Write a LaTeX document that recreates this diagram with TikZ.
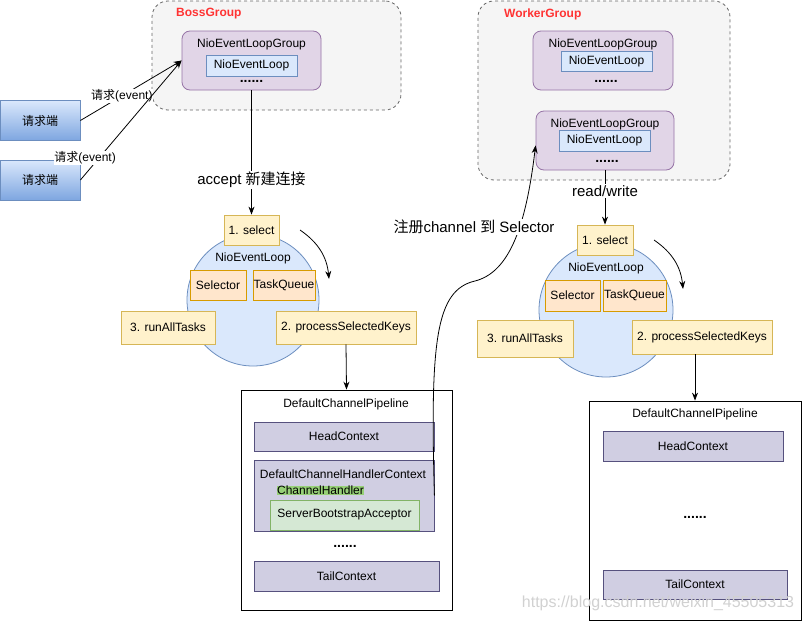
\documentclass[tikz,border=0pt]{standalone}
\usepackage{fontspec}
\setmainfont{Liberation Sans}
\newfontfamily\zh{Noto Sans CJK SC}
\usetikzlibrary{arrows.meta}
\definecolor{grpfill}{HTML}{F5F5F5}
\definecolor{grpline}{HTML}{666666}
\definecolor{grpred}{HTML}{FF3333}
\definecolor{purfill}{HTML}{E1D5E7}
\definecolor{purline}{HTML}{9673A6}
\definecolor{bluefill}{HTML}{DAE8FC}
\definecolor{blueline}{HTML}{6C8EBF}
\definecolor{clibot}{HTML}{7EA6E0}
\definecolor{yelfill}{HTML}{FFF2CC}
\definecolor{yelline}{HTML}{D6B656}
\definecolor{orgfill}{HTML}{FFE6CC}
\definecolor{orgline}{HTML}{D79B00}
\definecolor{ctxfill}{HTML}{D0CEE2}
\definecolor{ctxline}{HTML}{56517E}
\definecolor{grnfill}{HTML}{D5E8D4}
\definecolor{grnline}{HTML}{82B366}
\definecolor{hlgreen}{HTML}{97D077}
\tikzset{
  grp/.style={draw=grpline, fill=grpfill, dashed, rounded corners=16pt, line width=0.8pt},
  grplab/.style={text=grpred, font=\fontsize{12}{14}\selectfont\bfseries, inner sep=0pt},
  nelg/.style={draw=purline, fill=purfill, rounded corners=8pt, line width=0.8pt},
  nel/.style={draw=blueline, fill=bluefill, line width=0.8pt, inner sep=1pt},
  cli/.style={draw=blueline, top color=bluefill, bottom color=clibot, line width=0.8pt,
    minimum width=80, minimum height=40},
  loop/.style={circle, draw=blueline, fill=bluefill, line width=0.8pt, inner sep=0pt},
  ybox/.style={draw=yelline, fill=yelfill, line width=0.8pt, inner sep=1pt},
  obox/.style={draw=orgline, fill=orgfill, line width=0.8pt, inner sep=0.5pt},
  pipe/.style={draw=black, fill=white, line width=0.8pt},
  ctx/.style={draw=ctxline, fill=ctxfill, line width=0.8pt, inner sep=1pt},
  grn/.style={draw=grnline, fill=grnfill, line width=0.8pt, inner sep=1pt},
  hl/.style={fill=hlgreen, inner sep=0.5pt},
  txt/.style={inner sep=0pt},
  dots/.style={inner sep=0pt, font=\fontsize{14}{14}\selectfont\bfseries},
  elab/.style={fill=white, inner sep=0.5pt},
  elabl/.style={fill=white, inner sep=1pt, font=\fontsize{15}{18}\selectfont},
  arr/.style={-{Stealth[length=8pt,width=6pt]}, line width=0.8pt},
  wm/.style={text=black!18, font=\fontsize{16}{18}\selectfont},
}

\begin{document}
\begin{tikzpicture}[x=1pt, y=-1pt, font=\fontsize{12}{14}\selectfont]
  \useasboundingbox (0,0) rectangle (802,621);

  % BossGroup
  \node[grp, minimum width=249, minimum height=109] (boss) at (276.5,55.5) {};
  \node[grplab, anchor=west] (bosst) at (176,14) {BossGroup};
  \node[nelg, minimum width=139, minimum height=59] (bnelg) at (251.5,60.5) {};
  \node[txt] (bnelgt) at (251.5,44) {NioEventLoopGroup};
  \node[nel, minimum width=91, minimum height=21] (bnel) at (251.5,65.5) {NioEventLoop};
  \node[dots] (bdots) at (251.5,81) {......};

  % WorkerGroup
  \node[grp, minimum width=252, minimum height=179] (worker) at (604,90.5) {};
  \node[grplab, anchor=west] (workert) at (504,14) {WorkerGroup};
  \node[nelg, minimum width=140, minimum height=59] (wnelg1) at (603,60.5) {};
  \node[txt] (wnelg1t) at (603,44) {NioEventLoopGroup};
  \node[nel, minimum width=91, minimum height=20] (wnel1) at (606.5,61) {NioEventLoop};
  \node[dots] (wdots1) at (606,81) {......};
  \node[nelg, minimum width=138, minimum height=59] (wnelg2) at (605,140.5) {};
  \node[txt] (wnelg2t) at (605,124) {NioEventLoopGroup};
  \node[nel, minimum width=91, minimum height=21] (wnel2) at (604.5,140.5) {NioEventLoop};
  \node[dots] (wdots2) at (607,161) {......};

  % clients
  \node[cli] (cli1) at (40,120.5) {\zh 请求端};
  \node[cli] (cli2) at (40,180) {\zh 请求端};
  \draw[arr] (cli1.east) -- (bnelg.west) node[pos=0.41, elab] (ev1) {{\zh 请求}(event)};
  \draw[arr] (cli2.east) -- (bnelg.west) node[pos=0.185, xshift=-14pt, elab] (ev2) {{\zh 请求}(event)};

  % boss event loop
  \node[loop, minimum size=132] (lloop) at (253,300) {};
  \node[ybox, minimum width=55, minimum height=30] (lsel) at (251.5,230) {1. select};
  \node[txt] (lloopt) at (253,258) {NioEventLoop};
  \node[obox, minimum width=56, minimum height=30] (lselr) at (218,285) {Selector};
  \node[obox, minimum width=62, minimum height=30] (ltq) at (284,285) {TaskQueue};
  \node[ybox, minimum width=94, minimum height=33] (lrun) at (168,327.5) {3. runAllTasks};
  \node[ybox, minimum width=140, minimum height=33] (lpsk) at (346,327.5) {2. processSelectedKeys};
  \coordinate (lca) at (300,230);
  \coordinate (lcb) at (329,279);
  \draw[arr] (lca) to[bend left=25] (lcb);

  % boss pipeline
  \node[pipe, minimum width=211, minimum height=220] (lpipe) at (346.5,500) {};
  \node[txt] (lpipet) at (346,404) {DefaultChannelPipeline};
  \node[ctx, minimum width=180, minimum height=29] (lhead) at (344,436.5) {HeadContext};
  \node[ctx, minimum width=180, minimum height=71] (lhctx) at (344,495.5) {};
  \node[txt] (lhctxt) at (343,474) {DefaultChannelHandlerContext};
  \node[hl] (lchand) at (320.5,490.5) {ChannelHandler};
  \node[grn, minimum width=149, minimum height=30] (lsba) at (344.5,515) {ServerBootstrapAcceptor};
  \node[dots] (ldots) at (345,546) {......};
  \node[ctx, minimum width=185, minimum height=30] (ltail) at (346.5,576) {TailContext};

  % worker event loop
  \node[loop, minimum size=134] (rloop) at (606,310) {};
  \node[ybox, minimum width=56, minimum height=30] (rsel) at (605,240) {1. select};
  \node[txt] (rloopt) at (606,268) {NioEventLoop};
  \node[obox, minimum width=55, minimum height=31] (rselr) at (572.5,295.5) {Selector};
  \node[obox, minimum width=63, minimum height=31] (rtq) at (634.5,295.5) {TaskQueue};
  \node[ybox, minimum width=96, minimum height=37] (rrun) at (525,338.5) {3. runAllTasks};
  \node[ybox, minimum width=140, minimum height=34] (rpsk) at (702,337) {2. processSelectedKeys};
  \coordinate (rca) at (654,240);
  \coordinate (rcb) at (683,289);
  \draw[arr] (rca) to[bend left=25] (rcb);

  % worker pipeline
  \node[pipe, minimum width=212, minimum height=219] (rpipe) at (695,510.5) {};
  \node[txt] (rpipet) at (695,414) {DefaultChannelPipeline};
  \node[ctx, minimum width=180, minimum height=30] (rhead) at (693,446) {HeadContext};
  \node[dots] (rdots) at (695,517) {......};
  \node[ctx, minimum width=184, minimum height=29] (rtail) at (695,584.5) {TailContext};

  % connectors
  \draw[arr] (bnelg.south) -- (lsel.north) node[pos=0.72, elabl] (accl) {accept {\zh 新建连接}};
  \draw[arr] (wnelg2.south) -- (rsel.north) node[pos=0.38, elabl] (rwl) {read/write};
  \draw[arr] (lpsk.south) -- (lpipe.north);
  \draw[arr] (rpipe.north |- rpsk.south) -- (rpipe.north);
  \draw[arr] (lhctx.east) .. controls (430,340) and (436,290) .. (475,281)
    .. controls (510,272) and (526,225) .. (wnelg2.184);
  \node[elabl] (regl) at (474,227) {{\zh 注册}channel {\zh 到} Selector};

  \node[wm] (wmark) at (658,603) {https://blog.csdn.net/weixin\_45505313};
\end{tikzpicture}
\end{document}
